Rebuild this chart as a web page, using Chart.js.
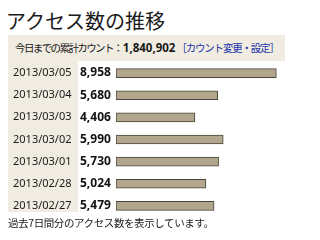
<!DOCTYPE html>
<html>
<head>
<meta charset="utf-8">
<script src="https://cdn.jsdelivr.net/npm/chart.js@4/dist/chart.umd.min.js"></script>
<style>
  html, body { margin: 0; padding: 0; background: #fff; }
  body { width: 320px; height: 240px; position: relative; overflow: hidden;
         font-family: "Noto Sans CJK JP", "Noto Sans", sans-serif; color: #1a1a1a; }
  #title { position: absolute; left: 6px; top: 7px; font-size: 20px; line-height: 28px; }
  #band { position: absolute; left: 8px; top: 35px; width: 277px; height: 26px; background: #f1ece1; }
  #col { position: absolute; left: 8px; top: 61px; width: 70px; height: 151px; background: #f1ece1; }
  #total { position: absolute; left: 15px; top: 40px; font-size: 10.5px; line-height: 16px;
           white-space: nowrap; letter-spacing: -1.6px; }
  #total b { font-family: "Noto Sans", sans-serif; font-size: 11.5px; letter-spacing: 0; margin-left: 1px; }
  #total a { color: #2233aa; text-decoration: none; margin-left: 1px; letter-spacing: -1.2px; }
  #foot { position: absolute; left: 8px; top: 215px; font-size: 10.5px; line-height: 16px;
          white-space: nowrap; letter-spacing: -0.4px; }
  #wrap { position: absolute; left: 13px; top: 62px; width: 282px; height: 155px; }
</style>
</head>
<body>
<div id="title">アクセス数の推移</div>
<div id="band"></div>
<div id="col"></div>
<div id="total">今日までの累計カウント：<b>1,840,902</b><a>［カウント変更・設定］</a></div>
<div id="wrap"><canvas id="chart"></canvas></div>
<div id="foot">過去7日間分のアクセス数を表示しています。</div>
<script>
  const dates = [
    "2013/03/05",
    "2013/03/04",
    "2013/03/03",
    "2013/03/02",
    "2013/03/01",
    "2013/02/28",
    "2013/02/27",
  ];
  const visits = [8958, 5680, 4406, 5990, 5730, 5024, 5479];
  const visitLabels = visits.map((v) => v.toLocaleString("en-US"));

  // fixed axis widths, and no extra top/bottom padding from tick labels
  function fixAxis(width) {
    return (s) => {
      s.width = width;
      s.paddingTop = 0;
      s.paddingBottom = 0;
    };
  }

  const ctx = document.getElementById("chart").getContext("2d");
  new Chart(ctx, {
    type: "bar",
    data: {
      labels: dates,
      datasets: [
        {
          data: visits,
          backgroundColor: "#b2a78c",
          borderColor: "#4a463c",
          borderWidth: 1,
          borderSkipped: false,
          barThickness: 9,
          yAxisID: "y",
        },
      ],
    },
    options: {
      indexAxis: "y",
      responsive: true,
      maintainAspectRatio: false,
      animation: false,
      layout: { padding: 0 },
      plugins: { legend: { display: false }, tooltip: { enabled: false } },
      scales: {
        x: { display: false, min: 0, max: 10000 },
        y: {
          type: "category",
          weight: 2,
          offset: true,
          grid: { display: false },
          border: { display: false },
          ticks: {
            crossAlign: "far",
            color: "#1a1a1a",
            font: { family: "Noto Sans", size: 11 },
          },
          afterFit: fixAxis(67),
        },
        y2: {
          type: "category",
          position: "left",
          weight: 1,
          offset: true,
          labels: visitLabels,
          grid: { display: false },
          border: { display: false },
          ticks: {
            crossAlign: "far",
            color: "#111",
            font: { family: "Noto Sans", size: 12, weight: "bold" },
          },
          afterFit: fixAxis(36),
        },
      },
    },
  });
</script>
</body>
</html>
